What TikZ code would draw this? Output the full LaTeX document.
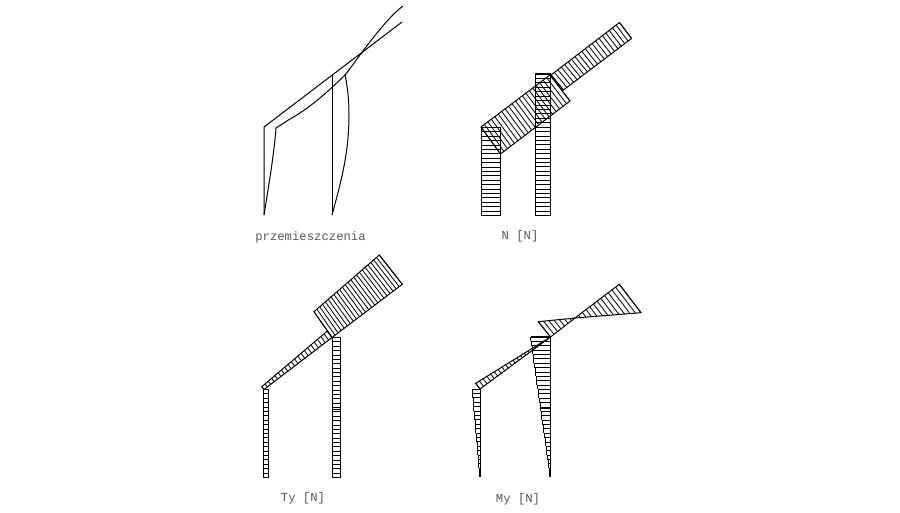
\documentclass[tikz,border=0pt]{standalone}
\usepackage{fontspec}
\setmainfont{Liberation Mono}
\usetikzlibrary{calc}
\tikzset{
  cad/.style={line width=0.75pt,black,line join=miter},
  hatchline/.style={line width=0.6pt,black},
  heavy/.style={line width=1.2pt,black},
  lab/.style={font=\fontsize{9.2pt}{10pt}\selectfont,text=black!65,inner sep=0pt,anchor=center}
}
% lines from A..B to C..D, n intervals; outline A-B-D-C
\newcommand{\hatchquad}[5]{%
  \foreach \k in {0,...,#5}{\pgfmathsetmacro{\f}{\k/#5}
    \draw[hatchline] ($(#1)!\f!(#2)$) -- ($(#3)!\f!(#4)$);}
  \draw[cad] (#1) -- (#2) -- (#4) -- (#3) -- cycle;}
% stepped triangle: axis x, top outer x, top y, bottom y, n steps
\newcommand{\stairs}[5]{%
  \foreach \k in {0,...,\numexpr#5-1\relax}{%
    \pgfmathsetmacro{\ya}{#3+(#4-#3)*\k/#5}
    \pgfmathsetmacro{\yb}{#3+(#4-#3)*(\k+1)/#5}
    \pgfmathsetmacro{\xo}{#2+(#1-#2)*(\k)/#5}
    \draw[hatchline] (#1,\ya) -- (\xo,\ya) -- (\xo,\yb);}
  \draw[cad] (#1,#3) -- (#1,#4);}
\begin{document}
\begin{tikzpicture}[x=0.75pt,y=-0.75pt]
\useasboundingbox (0,0) rectangle (900,513);
\fill[white] (0,0) rectangle (900,513);
% ---- displacements
\coordinate (dA) at (264,215); \coordinate (dB) at (264,127); \coordinate (dC) at (402,22);
\coordinate (dD) at (332,215); \coordinate (dE) at (332,75);
\draw[cad] (dA) -- (dB) -- (dC);
\draw[cad] (dD) -- (dE);
\draw[cad] (dA) .. controls (268,190) and (274,155) .. (276,128)
  -- (290,119) .. controls (310,108) and (330,90) .. (346,74)
  .. controls (355,62) and (385,19) .. (403,6);
\draw[cad] (dD) .. controls (343,175) and (349,150) .. (349,113)
  .. controls (349,98) and (347,85) .. (345,74);
\node[lab] (t1) at (310.5,237) {przemieszczenia};
% ---- N
\coordinate (a1) at (481,127.5); \coordinate (a2) at (500,127.5);
\coordinate (a3) at (481,215.5); \coordinate (a4) at (500,215.5);
\hatchquad{a1}{a3}{a2}{a4}{20}
\coordinate (b1) at (535.5,74); \coordinate (b2) at (550.5,74);
\coordinate (b3) at (535.5,215.5); \coordinate (b4) at (550.5,215.5);
\hatchquad{b1}{b3}{b2}{b4}{32}
\coordinate (c1) at (481,127); \coordinate (c2) at (550,75);
\coordinate (c3) at (500.5,154); \coordinate (c4) at (570,101);
\hatchquad{c1}{c2}{c3}{c4}{20}
\coordinate (e1) at (551,75); \coordinate (e2) at (619.5,22.5);
\coordinate (e3) at (563.5,90); \coordinate (e4) at (631.5,38.5);
\hatchquad{e1}{e2}{e3}{e4}{20}
\node[lab] (t2) at (520,236) {N [N]};
% ---- Ty
\coordinate (f1) at (263.5,389.5); \coordinate (f2) at (268.5,389.5);
\coordinate (f3) at (263.5,477.5); \coordinate (f4) at (268.5,477.5);
\hatchquad{f1}{f3}{f2}{f4}{20}
\coordinate (g1) at (332.5,337.5); \coordinate (g2) at (340.5,337.5);
\coordinate (g3) at (332.5,477.5); \coordinate (g4) at (340.5,477.5);
\hatchquad{g1}{g3}{g2}{g4}{32}
\draw[heavy] (g1) -- (g2);
\coordinate (g5) at (332.5,409.5); \coordinate (g6) at (340.5,409.5);
\draw[heavy] (g5) -- (g6);
\coordinate (h1) at (264,389.5); \coordinate (h2) at (332,337.5);
\coordinate (h3) at (261.8,386.7); \coordinate (h4) at (327.3,331);
\hatchquad{h1}{h2}{h3}{h4}{20}
\coordinate (i1) at (332,337.5); \coordinate (i2) at (402.3,284.3);
\coordinate (i3) at (314,311.7); \coordinate (i4) at (379.3,255);
\hatchquad{i1}{i2}{i3}{i4}{23}
\node[lab] (t3) at (303,498) {Ty [N]};
% ---- My
\stairs{480}{472.3}{389}{477}{20}
\stairs{550.5}{530.7}{337}{477}{32}
\coordinate (k5) at (530.7,337); \coordinate (k6) at (550.5,337);
\draw[heavy] (k5) -- (k6);
\coordinate (k7) at (541,408.5); \coordinate (k8) at (550.5,408.5);
\draw[heavy] (k7) -- (k8);
\coordinate (l1) at (480,389); \coordinate (l2) at (550.5,337);
\coordinate (l3) at (475.7,383.3); \coordinate (l4) at (550.5,337);
\hatchquad{l1}{l2}{l3}{l4}{20}
\coordinate (m1) at (550.5,337); \coordinate (m2) at (575,318);
\coordinate (m3) at (538.3,321.7); \coordinate (m4) at (575,318);
\hatchquad{m1}{m2}{m3}{m4}{7}
\coordinate (n1) at (575,318); \coordinate (n2) at (619.3,284.3);
\coordinate (n3) at (575,318); \coordinate (n4) at (641,312.7);
\hatchquad{n1}{n2}{n3}{n4}{12}
\node[lab] (t4) at (518,499) {My [N]};
\end{tikzpicture}
\end{document}
